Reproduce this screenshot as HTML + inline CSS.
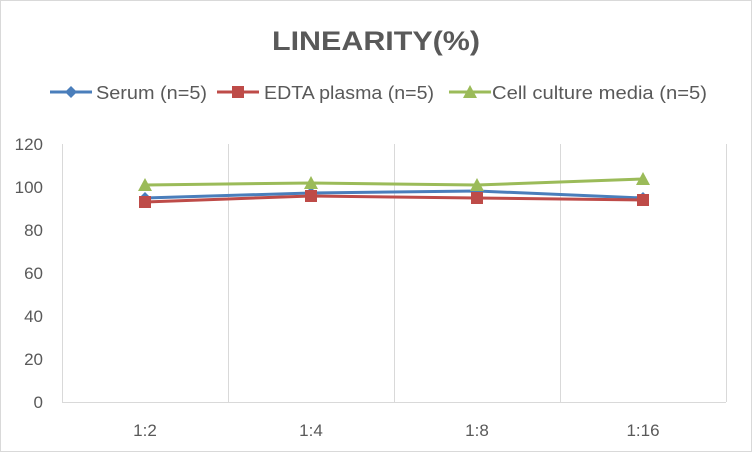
<!DOCTYPE html>
<html><head><style>body{margin:0;background:#fff}</style></head><body>
<svg width="752" height="452" xmlns="http://www.w3.org/2000/svg" font-family="Liberation Sans, sans-serif">
<rect x="0.5" y="0.5" width="751" height="451" fill="#fff" stroke="#d9d9d9"/>
<text x="272" y="50" font-size="27" font-weight="bold" fill="#595959" textLength="208" lengthAdjust="spacingAndGlyphs">LINEARITY(%)</text>
<g font-size="18" fill="#595959">
<line x1="50" y1="92" x2="92" y2="92" stroke="#4a7ebb" stroke-width="3"/><path d="M71 86 L77 92 L71 98 L65 92Z" fill="#4a7ebb"/>
<text x="96" y="99" textLength="111" lengthAdjust="spacingAndGlyphs">Serum (n=5)</text>
<line x1="217" y1="92" x2="259" y2="92" stroke="#be4b48" stroke-width="3"/><rect x="232" y="86" width="12" height="12" fill="#be4b48"/>
<text x="264" y="99" textLength="170" lengthAdjust="spacingAndGlyphs">EDTA plasma (n=5)</text>
<line x1="449" y1="92" x2="491" y2="92" stroke="#9bbb59" stroke-width="3"/><path d="M470 85 L477 98 L463 98Z" fill="#9bbb59"/>
<text x="492" y="99" textLength="215" lengthAdjust="spacingAndGlyphs">Cell culture media (n=5)</text>
</g>
<g stroke="#d9d9d9" stroke-width="1">
<line x1="62.5" y1="144" x2="62.5" y2="402"/><line x1="228.5" y1="144" x2="228.5" y2="402"/><line x1="394.5" y1="144" x2="394.5" y2="402"/><line x1="560.5" y1="144" x2="560.5" y2="402"/><line x1="726.5" y1="144" x2="726.5" y2="402"/>
<line x1="62" y1="402.5" x2="726" y2="402.5"/>
</g>
<g font-size="17" fill="#595959" text-anchor="end">
<text x="43" y="150">120</text><text x="43" y="193">100</text><text x="43" y="236">80</text><text x="43" y="279">60</text><text x="43" y="322">40</text><text x="43" y="365">20</text><text x="43" y="408">0</text>
</g>
<g font-size="17" fill="#595959" text-anchor="middle">
<text x="145" y="436">1:2</text><text x="311" y="436">1:4</text><text x="477" y="436">1:8</text><text x="643" y="436">1:16</text>
</g>
<polyline points="145,198 311,193 477,191 643,198" fill="none" stroke="#4a7ebb" stroke-width="3"/>
<g fill="#4a7ebb"><path d="M145 192l6 6-6 6-6-6z"/><path d="M311 187l6 6-6 6-6-6z"/><path d="M477 185l6 6-6 6-6-6z"/><path d="M643 192l6 6-6 6-6-6z"/></g>
<polyline points="145,202 311,196 477,198 643,200" fill="none" stroke="#be4b48" stroke-width="3"/>
<g fill="#be4b48"><rect x="139" y="196" width="12" height="12"/><rect x="305" y="190" width="12" height="12"/><rect x="471" y="192" width="12" height="12"/><rect x="637" y="194" width="12" height="12"/></g>
<polyline points="145,185 311,183 477,185 643,179" fill="none" stroke="#9bbb59" stroke-width="3"/>
<g fill="#9bbb59"><path d="M145 178l7 13h-14z"/><path d="M311 176l7 13h-14z"/><path d="M477 178l7 13h-14z"/><path d="M643 172l7 13h-14z"/></g>
</svg>
</body></html>
